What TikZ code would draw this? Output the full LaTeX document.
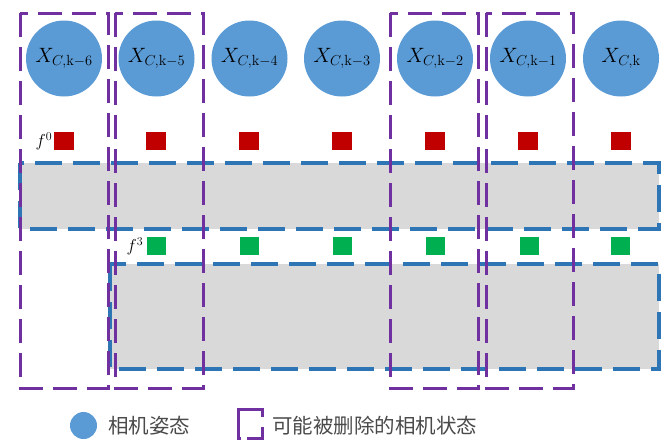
\documentclass[tikz,border=0pt]{standalone}
\usepackage{fontspec}
\newfontfamily\cjk{Noto Sans CJK SC}
\definecolor{poseblue}{HTML}{5B9BD5}
\definecolor{featred}{HTML}{C00000}
\definecolor{featgreen}{HTML}{00B050}
\definecolor{delpurple}{HTML}{7030A0}
\definecolor{winblue}{HTML}{2E75B6}
\definecolor{wingray}{HTML}{D9D9D9}
\definecolor{legtext}{HTML}{4A4A4A}
\tikzset{
  pose/.style={circle,fill=poseblue,draw=none,minimum size=76pt,inner sep=0pt,font=\fontsize{21}{25}\selectfont},
  redsq/.style={rectangle,fill=featred,minimum width=20pt,minimum height=18pt,inner sep=0pt},
  greensq/.style={rectangle,fill=featgreen,minimum width=19pt,minimum height=18pt,inner sep=0pt},
  winbox/.style={draw=winblue,fill=wingray,line width=3.2pt,dash pattern=on 27pt off 11pt},
  delbox/.style={draw=delpurple,line width=3pt,dash pattern=on 24pt off 10pt},
  flabel/.style={font=\fontsize{17}{20}\selectfont,inner sep=0pt},
  legend/.style={font=\cjk\fontsize{20.5}{24}\selectfont,text=legtext,anchor=west,inner sep=0pt}
}
\begin{document}
\begin{tikzpicture}[x=1pt,y=-1pt]
\useasboundingbox (0,0) rectangle (668,447);
% sliding window boxes
\draw[winbox] (20,163) rectangle (659,229);
\draw[winbox] (110,264) rectangle (659,369);
% camera poses
\node[pose] (x6) at (64,58.5) {$X_{C,\mathrm{k}-6}$};
\node[pose] (x5) at (156.5,58.5) {$X_{C,\mathrm{k}-5}$};
\node[pose] (x4) at (249.5,58.5) {$X_{C,\mathrm{k}-4}$};
\node[pose] (x3) at (342,58.5) {$X_{C,\mathrm{k}-3}$};
\node[pose] (x2) at (435,58.5) {$X_{C,\mathrm{k}-2}$};
\node[pose] (x1) at (528,58.5) {$X_{C,\mathrm{k}-1}$};
\node[pose] (x0) at (621,58.5) {$X_{C,\mathrm{k}}$};
% features f0
\node[flabel] (f0) at (44,141) {$f^0$};
\node[redsq] (r6) at (64,141) {};
\node[redsq] (r5) at (156,141) {};
\node[redsq] (r4) at (249,141) {};
\node[redsq] (r3) at (342,141) {};
\node[redsq] (r2) at (435,141) {};
\node[redsq] (r1) at (528,141) {};
\node[redsq] (r0) at (620.5,141) {};
% features f3
\node[flabel] (f3) at (135,246) {$f^3$};
\node[greensq] (g5) at (156.5,246) {};
\node[greensq] (g4) at (249,246) {};
\node[greensq] (g3) at (342,246) {};
\node[greensq] (g2) at (435,246) {};
\node[greensq] (g1) at (529,246) {};
\node[greensq] (g0) at (620.5,246) {};
% possibly removed camera states
\draw[delbox] (20,13) rectangle (108,388);
\draw[delbox] (115,13) rectangle (203,388);
\draw[delbox] (390,13) rectangle (478,388);
\draw[delbox] (486,13) rectangle (573,388);
% legend
\fill[poseblue] (83.5,425.5) circle (13.5pt);
\node[legend] (l1) at (108,425.5) {相机姿态};
\draw[delpurple,line width=3pt] (262,417) -- (262,409.5) -- (238.5,409.5) -- (238.5,438.5) -- (241,438.5);
\draw[delpurple,line width=3pt] (247,438.5) -- (262,438.5) -- (262,427);
\node[legend] (l2) at (272,425.5) {可能被删除的相机状态};
\end{tikzpicture}
\end{document}
